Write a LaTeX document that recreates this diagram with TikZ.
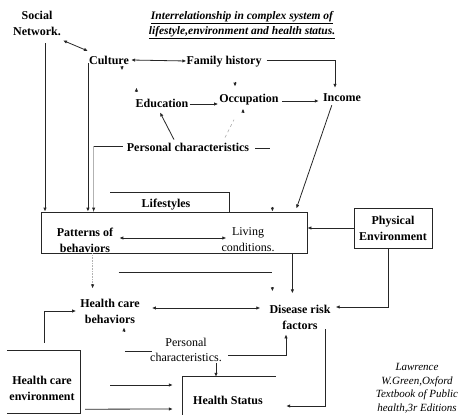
\documentclass[tikz,border=0pt]{standalone}
\usepackage{fontspec}
\setmainfont{Liberation Serif}
\usetikzlibrary{arrows.meta,calc}
\begin{document}
\begin{tikzpicture}[x=1pt,y=-1pt,
  lbl/.style={font=\bfseries\fontsize{12}{16}\selectfont, inner sep=0pt, align=center},
  plain/.style={font=\fontsize{12}{16}\selectfont, inner sep=0pt, align=center},
  ln/.style={line width=0.8pt, black!85},
  faint/.style={line width=0.6pt, black!30},
  tip/.style={-{Latex[length=4pt,width=3.5pt]}},
  both/.style={{Latex[length=4pt,width=3.5pt]}-{Latex[length=4pt,width=3.5pt]}},
  frame/.style={draw=black!85, line width=0.8pt, inner sep=0pt}
]
\useasboundingbox (0,0) rectangle (464,415);

% ---------- texts ----------
\node[lbl] (social) at (37,23) {Social\\Network.};
\node[lbl, font=\bfseries\itshape\fontsize{11.5}{15}\selectfont] (title) at (242,25)
  {\underline{Interrelationship in complex system of}\\\underline{lifestyle,environment and health status.}};
\node[lbl] (culture) at (109,60) {Culture};
\node[lbl] (family) at (224,62) {Family history};
\node[lbl] (education) at (162,103) {Education};
\node[lbl] (occupation) at (249,100) {Occupation};
\node[lbl] (income) at (342,98) {Income};
\node[lbl] (pc1) at (188,147) {Personal characteristics};
\node[lbl] (lifestyles) at (166,205) {Lifestyles};

\node[frame, minimum width=266pt, minimum height=41pt] (bigbox) at (174,232.5) {};
\node[lbl] (patterns) at (85,240) {Patterns of\\behaviors};
\node[plain] (living) at (248,240) {Living\\conditions.};
\node[frame, lbl, minimum width=78pt, minimum height=40pt] (physical) at (393,228) {Physical\\Environment};

\node[lbl] (hcb) at (110,311) {Health care\\behaviors};
\node[lbl] (drf) at (300,317) {Disease risk\\factors};
\node[plain, font=\fontsize{12}{15}\selectfont] (pc2) at (186,350) {Personal\\characteristics.};

\node[inner sep=0pt, minimum width=73pt, minimum height=62pt] (hcebox) at (43.5,382) {};
\node[lbl] (hce) at (42,388) {Health care\\environment};
\node[inner sep=0pt, minimum width=93pt, minimum height=38pt] (hsbox) at (229.5,396) {};
\node[lbl] (hs) at (228,400) {Health Status};

\node[font=\itshape\fontsize{11}{13.5}\selectfont, inner sep=0pt, align=center] (src) at (417,388)
  {Lawrence\\W.Green,Oxford\\Textbook of Public\\health,3r Editions};

% ---------- open boxes ----------
\draw[ln] (hcebox.north west) -- (hcebox.north east) -- (hcebox.south east) -- (hcebox.south west);
\draw[ln] (hsbox.south west) -- (hsbox.north west) -- (hsbox.north east);

% ---------- upper cluster ----------
\draw[ln,both] ($(social.south east)+(2,5)$) -- ($(culture.west)+(-1,-9)$);
\draw[ln,both] ($(culture.east)+(2,0)$) -- ($(family.west)+(0,-1)$);
\draw[ln,tip] ($(family.east)+(5,-2)$) -| ($(income.north)+(-7,-6)$);
\draw[ln,tip] ($(education.east)+(1,1)$) -- ($(occupation.west |- education.east)+(-1,1)$);
\draw[ln,tip] ($(occupation.east)+(3,1)$) -- ($(income.west)+(-4,3)$);
\draw[ln,tip] ($(income.south west)+(9,3)$) -- ($(bigbox.north east)+(-11,-3)$);
\draw[ln,tip] ($(pc1.north)+(-14,-3)$) -- ($(education.south)+(-2,5)$);
\draw[faint, dashed] ($(pc1.north)+(37,-5)$) -- ($(occupation.south)+(-15,14)$);

% loose arrowheads
\draw[ln,tip] ($(culture.south)+(13,2)$) -- ++(0,4);
\draw[ln,tip] ($(education.north west)+(1,-7)$) -- ++(0,-4);
\draw[ln,tip] ($(family.south)+(11,14)$) -- ++(0,5);
\draw[ln,tip] ($(occupation.south)+(-6,7)$) -- ++(0,-4);

% personal characteristics into the lifestyle box
\coordinate (pcturn) at ($(pc1.west)+(-33,-1)$);
\draw[ln] ($(pc1.west)+(-4,-1)$) -- (pcturn);
\draw[faint] (pcturn) -- (pcturn |- bigbox.north);
\draw[ln,tip] ($(pcturn |- bigbox.north)+(0,-4)$) -- (pcturn |- bigbox.north);
\draw[ln] ($(pc1.east)+(6,1)$) -- ++(15,0);

% drops into the lifestyle box
\coordinate (socdrop) at ($(social.south)+(8,8)$);
\draw[ln,tip] (socdrop) -- (socdrop |- bigbox.north);
\coordinate (culdrop) at ($(culture.south west)+(-1,-1)$);
\draw[ln,tip] (culdrop) -- (culdrop |- bigbox.north);

% lifestyles bracket
\coordinate (lsL) at ($(lifestyles.north west)+(-31,-7)$);
\coordinate (lsR) at ($(lifestyles.north east)+(39,-7)$);
\draw[ln] (lsL) -- (lsR) -- (lsR |- bigbox.north);
\draw[ln,tip] ($(bigbox.north east)+(-35,-5)$) -- ($(bigbox.north east)+(-35,0)$);

% inside the box
\draw[ln,both] ($(patterns.east)+(6,-2)$) -- ($(living.west)+(5,-2)$);

% physical environment
\draw[ln,tip] (physical.west) -- (physical.west -| bigbox.east);
\draw[ln,tip] ($(physical.south west)+(35,0)$) |- ($(drf.east)+(5,-10)$);

% ---------- lower cluster ----------
\coordinate (patdrop) at ($(bigbox.south west)+(52,0)$);
\coordinate (patend) at ($(patdrop)+(0,35)$);
\draw[faint, densely dotted] (patdrop) -- (patend);
\draw[ln,tip] ($(patend)+(0,-4)$) -- (patend);

\draw[ln] ($(bigbox.south west)+(78,19)$) -- ($(bigbox.south east)+(-35,19)$);

\coordinate (livdrop) at ($(bigbox.south east)+(-15,0)$);
\draw[ln,tip] (livdrop) -- ($(livdrop)+(0,40)$);
\draw[ln,tip] ($(livdrop)+(-20,34)$) -- ++(0,4);

\draw[ln,both] ($(hcb.east)+(12,-3)$) -- ($(drf.west)+(-9,-9)$);

\coordinate (hceup) at ($(hcebox.north west)+(38,-8)$);
\draw[ln,tip] (hceup) |- ($(hcb.west)+(-4,0)$);
\draw[ln,tip] ($(hcb.south)+(14,8)$) -- ++(0,-4);

\draw[ln] ($(pc2.west)+(-25,1)$) -- ($(pc2.west)+(2,1)$);
\draw[ln,tip] ($(pc2.east)+(6,5)$) -| ($(drf.south)+(-14,5)$);
\coordinate (pc2drop) at ($(pc2.south)+(30,1)$);
\draw[ln,tip] (pc2drop) -- (pc2drop |- hsbox.north);

\draw[ln,tip] ($(hcebox.east)+(30,3)$) -- ($(hsbox.west)+(-10,-11)$);
\draw[ln,tip] ($(hcebox.south east)+(5,-4)$) -- ($(hsbox.west)+(-10,13)$);

\coordinate (drfout) at ($(drf.south east)+(-5.5,0)$);
\draw[ln,tip] (drfout) |- ($(hsbox.east)+(10,10)$);
\end{tikzpicture}
\end{document}
